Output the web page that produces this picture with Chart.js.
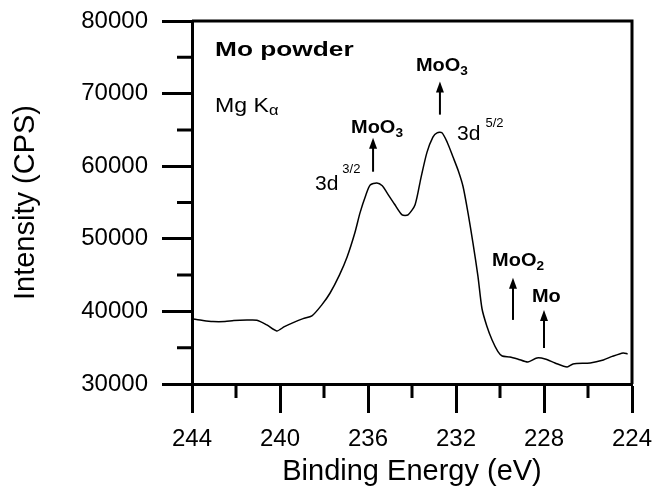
<!DOCTYPE html>
<html>
<head>
<meta charset="utf-8">
<script src="https://cdn.jsdelivr.net/npm/chart.js@4/dist/chart.umd.min.js"></script>
<style>
html,body{margin:0;padding:0;background:#fff;}
#wrap{width:656px;height:489px;}
</style>
</head>
<body>
<div id="wrap"><canvas id="c" width="656" height="489"></canvas></div>
<script>
/* ===== DATA ===== */
const energy = [244.0,243.5,243.05,242.5,242.1,241.5,241.05,240.6,240.15,239.8,239.4,238.95,238.55,238.1,237.73,237.3,236.95,236.6,236.36,236.1,235.9,235.6,235.35,235.14,234.8,234.45,234.18,233.86,233.6,233.32,233.05,232.86,232.64,232.4,232.14,231.9,231.68,231.45,231.23,231.0,230.82,230.6,230.36,230.1,229.9,229.55,229.2,228.73,228.32,227.95,227.5,226.95,226.68,225.9,225.3,224.9,224.4,224.2];
const intensity = [39000,38750,38600,38600,38730,38800,38780,38140,37310,37900,38460,39000,39380,40900,42500,45000,47500,50800,53600,56000,57400,57700,57300,56350,54800,53300,53300,54700,58300,61900,64000,64600,64600,63300,61300,59400,57200,53500,49450,44800,40400,38000,36070,34500,33850,33720,33450,33030,33590,33450,32900,32340,32760,32900,33310,33800,34280,34140];

const xMajorTicks = [244,240,236,232,228,224];
const xMinorTicks = [242,238,234,230,226];
const yMajorTicks = [30000,40000,50000,60000,70000,80000];
const yMinorTicks = [35000,45000,55000,65000,75000];

/* annotations (anchored in data coords) */
const notes = [
  {x:242.95, y:75240, align:"left",   bold:true,  sx:1.25, parts:[{t:"Mo powder", size:21}]},
  {x:242.95, y:67517, align:"left",   bold:false, sx:1.1,  parts:[{t:"Mg K", size:21},{t:"\u03b1", size:15, dy:3}]},
  {x:235.59, y:64621, align:"center", bold:true,  sx:1.05, parts:[{t:"MoO", size:19},{t:"3", size:13, dy:4}]},
  {x:232.64, y:73172, align:"center", bold:true,  sx:1.05, parts:[{t:"MoO", size:19},{t:"3", size:13, dy:4}]},
  {x:230.36, y:46276, align:"left",   bold:true,  sx:1.05, parts:[{t:"MoO", size:19},{t:"2", size:13, dy:4}]},
  {x:228.55, y:41310, align:"left",   bold:true,  sx:1.05, parts:[{t:"Mo", size:19}]},
  {x:238.41, y:56759, align:"left",   bold:false, sx:1,    parts:[{t:"3d", size:21},{t:"3/2", size:13, dy:-17, gap:4}]},
  {x:231.95, y:63655, align:"left",   bold:false, sx:1,    parts:[{t:"3d", size:21},{t:"5/2", size:13, dy:-13, gap:5}]}
];
const arrows = [
  {x:235.77, y0:59241, y1:63931},
  {x:232.73, y0:67103, y1:71655},
  {x:229.41, y0:38828, y1:44621},
  {x:228.00, y0:34966, y1:40207}
];

const FONT = "Arial, 'Liberation Sans', Helvetica, sans-serif";

function drawNote(ctx, n, px, py){
  const w = n.bold ? "bold " : "";
  let total = 0;
  n.parts.forEach(p=>{
    ctx.font = w + p.size + "px " + FONT;
    total += (p.gap||0) + ctx.measureText(p.t).width;
  });
  total *= n.sx;
  let x = n.align === "center" ? px - total/2 : px;
  ctx.save();
  ctx.fillStyle = "#000";
  ctx.textBaseline = "alphabetic";
  ctx.textAlign = "left";
  n.parts.forEach(p=>{
    ctx.font = w + p.size + "px " + FONT;
    x += (p.gap||0) * n.sx;
    ctx.save();
    ctx.translate(x, py + (p.dy||0));
    ctx.scale(n.sx, 1);
    ctx.fillText(p.t, 0, 0);
    ctx.restore();
    x += ctx.measureText(p.t).width * n.sx;
  });
  ctx.restore();
}

const decor = {
  id:"decor",
  afterDraw(chart){
    const ctx = chart.ctx;
    const xs = chart.scales.x, ys = chart.scales.y;
    const a = chart.chartArea;
    ctx.save();
    ctx.strokeStyle = "#000";
    ctx.lineWidth = 3;
    ctx.lineCap = "butt";
    // frame top + right
    ctx.beginPath();
    ctx.moveTo(a.left, a.top);
    ctx.lineTo(a.right, a.top);
    ctx.lineTo(a.right, a.bottom);
    ctx.stroke();
    // minor ticks
    ctx.beginPath();
    xMinorTicks.forEach(v=>{
      const x = xs.getPixelForValue(v);
      ctx.moveTo(x, a.bottom);
      ctx.lineTo(x, a.bottom + 14);
    });
    yMinorTicks.forEach(v=>{
      const y = ys.getPixelForValue(v);
      ctx.moveTo(a.left, y);
      ctx.lineTo(a.left - 15, y);
    });
    ctx.stroke();
    // arrows
    ctx.lineWidth = 2;
    ctx.fillStyle = "#000";
    arrows.forEach(ar=>{
      const x = xs.getPixelForValue(ar.x);
      const y0 = ys.getPixelForValue(ar.y0);
      const y1 = ys.getPixelForValue(ar.y1);
      ctx.beginPath();
      ctx.moveTo(x, y0);
      ctx.lineTo(x, y1 + 8);
      ctx.stroke();
      ctx.beginPath();
      ctx.moveTo(x, y1);
      ctx.lineTo(x - 4, y1 + 11);
      ctx.lineTo(x + 4, y1 + 11);
      ctx.closePath();
      ctx.fill();
    });
    ctx.restore();
    notes.forEach(n=>drawNote(ctx, n, xs.getPixelForValue(n.x), ys.getPixelForValue(n.y)));
  }
};

new Chart(document.getElementById("c"),{
  type:"line",
  data:{
    datasets:[{
      data:energy.map((e,i)=>({x:e, y:intensity[i]})),
      borderColor:"#000",
      borderWidth:1.5,
      pointRadius:0,
      tension:0.25,
      fill:false
    }]
  },
  options:{
    responsive:false,
    animation:false,
    layout:{padding:{top:21, right:24, left:0, bottom:0}},
    plugins:{legend:{display:false}, tooltip:{enabled:false}},
    scales:{
      x:{
        type:"linear",
        reverse:true,
        min:224, max:244,
        afterBuildTicks:(s)=>{ s.ticks = xMajorTicks.map(v=>({value:v})); },
        afterFit:(s)=>{ s.height = 105; s.paddingLeft = 0; s.paddingRight = 0; },
        ticks:{color:"#000", font:{family:FONT, size:24}, padding:12, maxRotation:0, autoSkip:false},
        grid:{drawOnChartArea:false, drawTicks:true, tickLength:29, tickWidth:3, tickColor:"#000"},
        border:{display:true, color:"#000", width:3},
        title:{display:true, text:"Binding Energy (eV)", color:"#000", font:{family:FONT, size:29}, padding:{top:0, bottom:0}}
      },
      y:{
        type:"linear",
        min:30000, max:80000,
        afterBuildTicks:(s)=>{ s.ticks = yMajorTicks.map(v=>({value:v})); },
        afterFit:(s)=>{ s.width = 192; s.paddingTop = 0; s.paddingBottom = 0; },
        ticks:{color:"#000", font:{family:FONT, size:24}, padding:14, callback:(v)=>String(v)},
        grid:{drawOnChartArea:false, drawTicks:true, tickLength:30, tickWidth:3, tickColor:"#000"},
        border:{display:true, color:"#000", width:3},
        title:{display:true, text:"Intensity (CPS)", color:"#000", font:{family:FONT, size:29}, padding:{top:9, bottom:0}}
      }
    }
  },
  plugins:[decor]
});
</script>
</body>
</html>
